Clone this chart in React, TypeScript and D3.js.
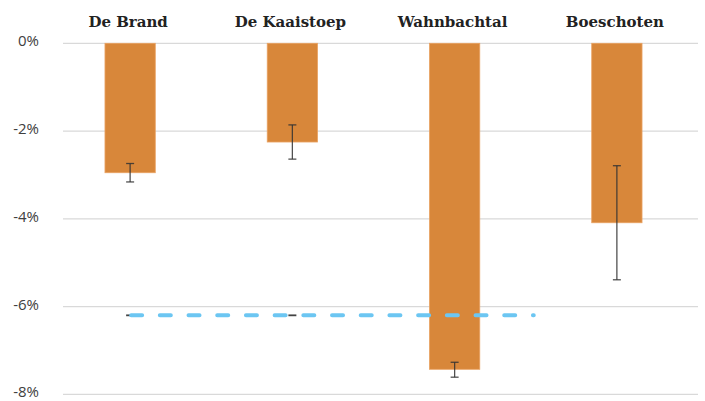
import * as d3 from "d3";

const sites = ["De Brand", "De Kaaistoep", "Wahnbachtal", "Boeschoten"];
const change = [-2.95, -2.25, -7.43, -4.09];
const errHigh = [-2.74, -1.86, -7.27, -2.79];
const errLow = [-3.16, -2.64, -7.61, -5.39];
const yTicks = [0, -2, -4, -6, -8];

// reference line (runs from De Brand to half-way Wahnbachtal/Boeschoten)
const refValue = -6.2;
const refSites = ["De Brand", "De Kaaistoep"];

const W = 705;
const H = 401;

export default function App() {
  const x = d3.scaleBand().domain(sites).range([49, 698]).paddingInner(0.69).paddingOuter(0.345);
  const y = d3.scaleLinear().domain([-8, 0]).range([394.3, 43.3]);
  const bw = x.bandwidth();
  const cx = (s: string) => (x(s) ?? 0) + bw / 2;

  const refX0 = cx(sites[0]) + 1;
  const refX1 = (cx(sites[2]) + cx(sites[3])) / 2 - 2;

  return (
    <svg width={W} height={H} style={{ position: "absolute", left: 0, top: 0 }}>
      <rect width={W} height={H} fill="#fff" />
      {yTicks.map((t) => (
        <g key={t}>
          <line x1={63} x2={698} y1={y(t)} y2={y(t)} stroke="#d9d9d9" strokeWidth={1.3} />
          <text
            x={39}
            y={y(t) - 1}
            textAnchor="end"
            dominantBaseline="middle"
            fontFamily="'Open Sans', sans-serif"
            fontSize={15}
            fill="#404040"
          >
            {`${t}%`}
          </text>
        </g>
      ))}
      {sites.map((s, i) => (
        <g key={s}>
          <rect
            x={x(s)}
            y={y(0)}
            width={bw}
            height={y(change[i]) - y(0)}
            fill="#d8873a"
            stroke="#e9a262"
            strokeWidth={0.8}
          />
          <line x1={cx(s)} x2={cx(s)} y1={y(errHigh[i])} y2={y(errLow[i])} stroke="#333" strokeWidth={1.3} strokeOpacity={0.85} />
          <line x1={cx(s) - 4} x2={cx(s) + 4} y1={y(errHigh[i])} y2={y(errHigh[i])} stroke="#333" strokeWidth={1.3} strokeOpacity={0.85} />
          <line x1={cx(s) - 4} x2={cx(s) + 4} y1={y(errLow[i])} y2={y(errLow[i])} stroke="#333" strokeWidth={1.3} strokeOpacity={0.85} />
          <text
            x={cx(s) - 2}
            y={27}
            textAnchor="middle"
            fontFamily="'DejaVu Serif', serif"
            fontWeight="bold"
            fontSize={15}
            fill="#222"
          >
            {s}
          </text>
        </g>
      ))}
      {refSites.map((s) => (
        <line key={s} x1={cx(s) - 4} x2={cx(s) + 4} y1={y(refValue)} y2={y(refValue)} stroke="#444" strokeWidth={1.8} />
      ))}
      <line
        x1={refX0}
        x2={refX1}
        y1={y(refValue)}
        y2={y(refValue)}
        stroke="#6cc6f2"
        strokeWidth={4}
        strokeLinecap="round"
        strokeDasharray="11,17.7"
      />
    </svg>
  );
}
